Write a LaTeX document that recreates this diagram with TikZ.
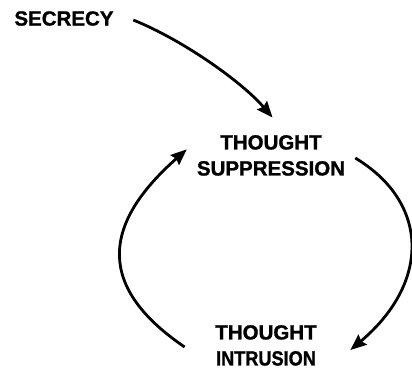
\documentclass[tikz,border=0pt]{standalone}
\usepackage{fontspec}
\setmainfont[BoldFeatures={FakeBold=1.2}]{Liberation Sans}
\usetikzlibrary{arrows.meta}
\begin{document}
\begin{tikzpicture}[x=1pt,y=-1pt,
  lbl/.style={inner sep=0pt,align=center,font=\fontsize{20.5}{26}\selectfont\bfseries},
  conn/.style={line width=2.8pt,-{Stealth[inset=2pt,length=16pt,width=13pt]}}]
\useasboundingbox (0,0) rectangle (412,370);
\node[lbl] (sec) at (64,18.5) {SECRECY};
\node[lbl] (sup) at (271,155.4) {THOUGHT\\SUPPRESSION};
\node[lbl] (intr) at (266,345.4) {THOUGHT\\\scalebox{0.885}[1]{INTRUSION}};
\draw[conn] ([shift={(19.5,1.5)}]sec.east) .. controls (183,40) and (242,82) .. ([shift={(1.5,-17.5)}]sup.north);
\draw[conn] ([shift={(10,2.6)}]sup.east) .. controls (430,203) and (430,283) .. ([shift={(33.5,4.6)}]intr.east);
\draw[conn] ([shift={(-30.5,1.6)}]intr.west) .. controls (98,288) and (100,226) .. ([shift={(-10,-6)}]sup.west);
\end{tikzpicture}
\end{document}
